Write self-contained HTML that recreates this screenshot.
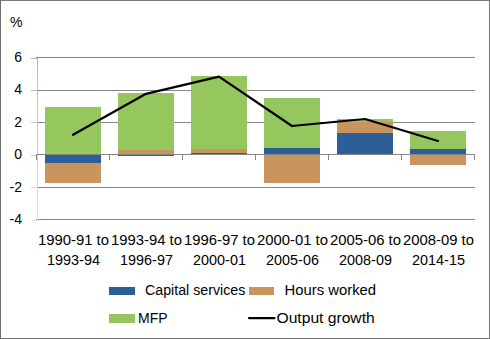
<!DOCTYPE html>
<html><head><meta charset="utf-8"><style>
html,body{margin:0;padding:0;background:#fff;}
body{width:490px;height:339px;overflow:hidden;position:relative;}
svg{position:absolute;left:0;top:0;}
text{font-family:"Liberation Sans",sans-serif;font-size:14px;fill:#000;}
</style></head><body>
<svg width="490" height="339" viewBox="0 0 490 339" shape-rendering="crispEdges">

<rect x="0" y="0" width="490" height="339" fill="#fff"/>
<rect x="0" y="0" width="490" height="1" fill="#7a7a7a"/>
<rect x="0" y="0" width="1" height="339" fill="#6e6e6e"/>
<rect x="489" y="0" width="1" height="339" fill="#757575"/>
<rect x="0" y="338" width="490" height="1" fill="#757575"/>
<rect x="36" y="57" width="439" height="1" fill="#868686"/>
<rect x="36" y="90" width="439" height="1" fill="#868686"/>
<rect x="36" y="122" width="439" height="1" fill="#868686"/>
<rect x="36" y="187" width="439" height="1" fill="#868686"/>
<rect x="36" y="219" width="439" height="1" fill="#868686"/>
<rect x="45" y="107" width="56" height="47.50" fill="#96C75E" shape-rendering="geometricPrecision"/>
<rect x="45" y="154.5" width="56" height="8.50" fill="#2E5E98" shape-rendering="geometricPrecision"/>
<rect x="45" y="163" width="56" height="20.00" fill="#C7955D" shape-rendering="geometricPrecision"/>
<rect x="118" y="93" width="56" height="57.00" fill="#96C75E" shape-rendering="geometricPrecision"/>
<rect x="118" y="150" width="56" height="4.50" fill="#C7955D" shape-rendering="geometricPrecision"/>
<rect x="118" y="154.5" width="56" height="1.50" fill="#2E5E98" shape-rendering="geometricPrecision"/>
<rect x="191" y="76" width="56" height="73.00" fill="#96C75E" shape-rendering="geometricPrecision"/>
<rect x="191" y="149" width="56" height="4.00" fill="#C7955D" shape-rendering="geometricPrecision"/>
<rect x="191" y="153" width="56" height="1.50" fill="#2E5E98" shape-rendering="geometricPrecision"/>
<rect x="264" y="98" width="56" height="50.00" fill="#96C75E" shape-rendering="geometricPrecision"/>
<rect x="264" y="148" width="56" height="6.50" fill="#2E5E98" shape-rendering="geometricPrecision"/>
<rect x="264" y="154.5" width="56" height="28.50" fill="#C7955D" shape-rendering="geometricPrecision"/>
<rect x="337" y="119" width="56" height="3.00" fill="#96C75E" shape-rendering="geometricPrecision"/>
<rect x="337" y="122" width="56" height="11.00" fill="#C7955D" shape-rendering="geometricPrecision"/>
<rect x="337" y="133" width="56" height="21.50" fill="#2E5E98" shape-rendering="geometricPrecision"/>
<rect x="410" y="131" width="56" height="18.00" fill="#96C75E" shape-rendering="geometricPrecision"/>
<rect x="410" y="149" width="56" height="5.50" fill="#2E5E98" shape-rendering="geometricPrecision"/>
<rect x="410" y="154.5" width="56" height="10.50" fill="#C7955D" shape-rendering="geometricPrecision"/>
<defs><linearGradient id="ya" gradientUnits="userSpaceOnUse" x1="0" y1="57" x2="0" y2="221"><stop offset="0" stop-color="#a3bbe5"/><stop offset="0.5" stop-color="#bccbea"/><stop offset="1" stop-color="#dfe4f3"/></linearGradient></defs>
<path d="M37,58h1v163h-1zM31,58h6v1h-6zM31,90h6v1h-6zM31,122h6v1h-6zM31,155h6v1h-6zM31,187h6v1h-6zM31,220h6v1h-6z" fill="url(#ya)"/>
<rect x="36" y="154" width="439" height="1" fill="#868686"/>
<rect x="36" y="154" width="1" height="6" fill="#868686"/>
<rect x="109" y="154" width="1" height="6" fill="#868686"/>
<rect x="182" y="154" width="1" height="6" fill="#868686"/>
<rect x="255" y="154" width="1" height="6" fill="#868686"/>
<rect x="328" y="154" width="1" height="6" fill="#868686"/>
<rect x="401" y="154" width="1" height="6" fill="#868686"/>
<rect x="474" y="154" width="1" height="6" fill="#868686"/>
<polyline points="73,134.7 146,93.8 219,76.6 292,126 365,119 438,141" fill="none" stroke="#000" stroke-width="2.25" stroke-linejoin="round" stroke-linecap="round" shape-rendering="geometricPrecision"/>
<text x="22" y="62" text-anchor="end">6</text>
<text x="22" y="94" text-anchor="end">4</text>
<text x="22" y="127" text-anchor="end">2</text>
<text x="22" y="159" text-anchor="end">0</text>
<text x="22" y="192" text-anchor="end">-2</text>
<text x="22" y="224" text-anchor="end">-4</text>
<text x="10" y="27">%</text>
<text x="73.5" y="245" text-anchor="middle" textLength="71" lengthAdjust="spacingAndGlyphs">1990-91 to</text>
<text x="73.5" y="265" text-anchor="middle" textLength="52.8" lengthAdjust="spacingAndGlyphs">1993-94</text>
<text x="146.5" y="245" text-anchor="middle" textLength="71" lengthAdjust="spacingAndGlyphs">1993-94 to</text>
<text x="146.5" y="265" text-anchor="middle" textLength="52.8" lengthAdjust="spacingAndGlyphs">1996-97</text>
<text x="219.5" y="245" text-anchor="middle" textLength="71" lengthAdjust="spacingAndGlyphs">1996-97 to</text>
<text x="219.5" y="265" text-anchor="middle" textLength="52.8" lengthAdjust="spacingAndGlyphs">2000-01</text>
<text x="292.5" y="245" text-anchor="middle" textLength="71" lengthAdjust="spacingAndGlyphs">2000-01 to</text>
<text x="292.5" y="265" text-anchor="middle" textLength="52.8" lengthAdjust="spacingAndGlyphs">2005-06</text>
<text x="365.5" y="245" text-anchor="middle" textLength="71" lengthAdjust="spacingAndGlyphs">2005-06 to</text>
<text x="365.5" y="265" text-anchor="middle" textLength="52.8" lengthAdjust="spacingAndGlyphs">2008-09</text>
<text x="438.5" y="245" text-anchor="middle" textLength="71" lengthAdjust="spacingAndGlyphs">2008-09 to</text>
<text x="438.5" y="265" text-anchor="middle" textLength="52.8" lengthAdjust="spacingAndGlyphs">2014-15</text>
<rect x="109" y="287" width="26" height="8" fill="#2E5E98"/>
<text x="145" y="295" textLength="100.3" lengthAdjust="spacingAndGlyphs">Capital services</text>
<rect x="249" y="287" width="25" height="8" fill="#C7955D"/>
<text x="284.5" y="295" textLength="91.6" lengthAdjust="spacingAndGlyphs">Hours worked</text>
<rect x="109" y="314" width="26" height="9" fill="#96C75E"/>
<text x="138" y="323">MFP</text>
<line x1="249" y1="318" x2="274.5" y2="318" stroke="#000" stroke-width="2.25" stroke-linecap="round" shape-rendering="geometricPrecision"/>
<text x="276.5" y="323" textLength="98.2" lengthAdjust="spacingAndGlyphs">Output growth</text>
</svg></body></html>
